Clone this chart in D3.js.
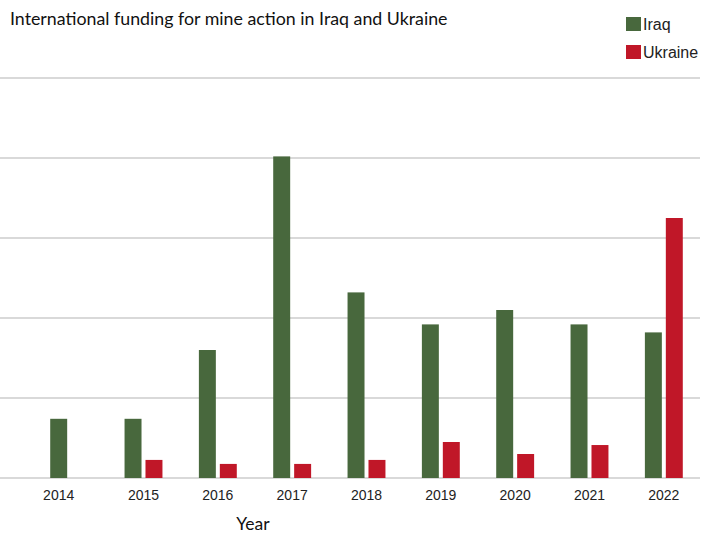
<!DOCTYPE html>
<html>
<head>
<meta charset="utf-8">
<script src="https://cdn.jsdelivr.net/npm/d3@7"></script>
<style>
  body { margin: 0; background: #fff; }
</style>
</head>
<body>
<div id="chart"></div>
<script>

// values (no y labels in the original, grid step taken as 50)
var years = ["2014", "2015", "2016", "2017", "2018", "2019", "2020", "2021", "2022"];
var iraq = [37, 37, 80, 201, 116, 96, 105, 96, 91];
var ukraine = [null, 11.3, 8.8, 8.8, 11.3, 22.5, 15, 20.6, 162.5];
var seriesNames = ["Iraq", "Ukraine"];
var colors = ["#48683d", "#c01728"];
var gridTicks = [0, 50, 100, 150, 200, 250];

var width = 703, height = 533;

var svg = d3.select("#chart")
  .append("svg")
  .attr("width", width)
  .attr("height", height);

var xScale = d3.scaleBand()
  .domain(years)
  .range([32, 701])
  .paddingInner(0.49)
  .paddingOuter(0.245);

var xInner = d3.scaleBand()
  .domain(seriesNames)
  .range([0, xScale.bandwidth()])
  .paddingInner(0.19);

var yScale = d3.scaleLinear()
  .domain([0, 250])
  .range([478, 78]);

// gridlines
svg.append("g")
  .selectAll("line")
  .data(gridTicks)
  .enter()
  .append("line")
  .attr("x1", 0)
  .attr("x2", 700)
  .attr("y1", function(d) { return yScale(d); })
  .attr("y2", function(d) { return yScale(d); })
  .attr("stroke", "#d9d9d9")
  .attr("stroke-width", 2);

var rows = years.map(function(y, i) {
  return { year: y, values: [iraq[i], ukraine[i]] };
});

var groups = svg.append("g")
  .selectAll("g")
  .data(rows)
  .enter()
  .append("g")
  .attr("transform", function(d) { return "translate(" + xScale(d.year) + ",0)"; });

groups.selectAll("rect")
  .data(function(d) {
    return d.values.map(function(v, k) { return { name: seriesNames[k], value: v, color: colors[k] }; })
      .filter(function(e) { return e.value != null; });
  })
  .enter()
  .append("rect")
  .attr("x", function(d) { return xInner(d.name); })
  .attr("width", xInner.bandwidth())
  .attr("y", function(d) { return yScale(d.value); })
  .attr("height", function(d) { return yScale(0) - yScale(d.value); })
  .attr("fill", function(d) { return d.color; });

// year labels, centred over the bars that exist
svg.append("g")
  .selectAll("text")
  .data(rows)
  .enter()
  .append("text")
  .attr("x", function(d) {
    var present = seriesNames.filter(function(n, k) { return d.values[k] != null; });
    var xs = present.map(function(n) { return xScale(d.year) + xInner(n) + xInner.bandwidth() / 2; });
    return d3.mean(xs);
  })
  .attr("y", 500)
  .attr("text-anchor", "middle")
  .style("font-family", "'Liberation Sans', Arial, sans-serif")
  .style("font-size", "14px")
  .style("fill", "#222")
  .text(function(d) { return d.year; });

svg.append("text")
  .attr("x", 253)
  .attr("y", 530)
  .attr("text-anchor", "middle")
  .style("font-family", "Lato, sans-serif")
  .style("font-size", "17.5px")
  .style("fill", "#111")
  .text("Year");

svg.append("text")
  .attr("x", 10)
  .attr("y", 25)
  .style("font-family", "Lato, sans-serif")
  .style("font-size", "17.8px")
  .style("fill", "#111")
  .text("International funding for mine action in Iraq and Ukraine");

// legend
var legend = svg.append("g")
  .selectAll("g")
  .data(seriesNames)
  .enter()
  .append("g")
  .attr("transform", function(d, i) { return "translate(626," + (17 + i * 28) + ")"; });

legend.append("rect")
  .attr("width", 15)
  .attr("height", 14)
  .attr("fill", function(d, i) { return colors[i]; });

legend.append("text")
  .attr("x", 17)
  .attr("y", 13)
  .style("font-family", "'Liberation Sans', Arial, sans-serif")
  .style("font-size", "16px")
  .style("fill", "#222")
  .text(function(d) { return d; });

</script>
</body>
</html>
